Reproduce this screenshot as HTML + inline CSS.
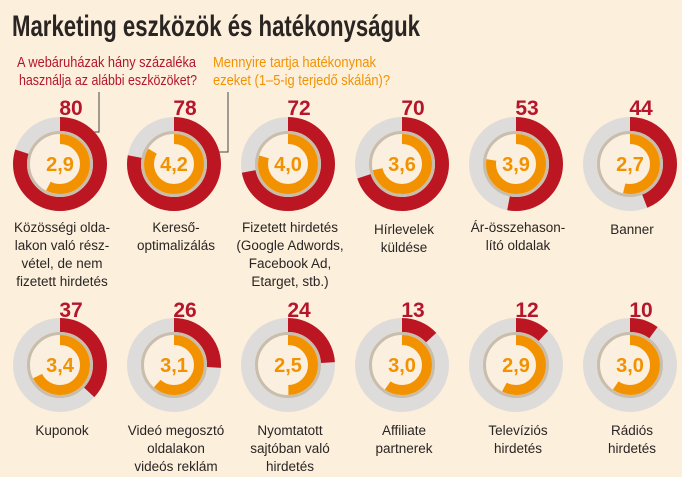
<!DOCTYPE html>
<html><head><meta charset="utf-8"><style>
html,body{margin:0;padding:0;background:#fcefdc;}
svg{display:block;font-family:"Liberation Sans",sans-serif;}
.bg{fill:#dedcda}
.red{fill:none;stroke:#bb1622;stroke-width:14}
.tan{fill:#fbefdf;stroke:#c9bdac;stroke-width:3}
.or{fill:none;stroke:#f39200;stroke-width:10}
.v{font-size:20px;font-weight:bold;fill:#f39200;text-anchor:middle}
.n{font-size:21px;font-weight:bold;fill:#b5162b;text-anchor:middle}
.l{font-size:13.5px;fill:#2a2523;text-anchor:middle}
</style></head><body>
<svg width="682" height="477" viewBox="0 0 682 477" xmlns="http://www.w3.org/2000/svg">
<rect width="682" height="477" fill="#fcefdc"/>
<text x="12" y="36" font-size="30" font-weight="bold" fill="#2a2523" textLength="408" lengthAdjust="spacingAndGlyphs">Marketing eszközök és hatékonyságuk</text>
<g font-size="14.5" fill="#b5162b">
<text x="17" y="67" textLength="179" lengthAdjust="spacingAndGlyphs">A webáruházak hány százaléka</text>
<text x="19" y="85" textLength="178" lengthAdjust="spacingAndGlyphs">használja az alábbi eszközöket?</text>
</g>
<g font-size="14.5" fill="#f39200">
<text x="213" y="67" textLength="163" lengthAdjust="spacingAndGlyphs">Mennyire tartja hatékonynak</text>
<text x="213" y="85" textLength="177" lengthAdjust="spacingAndGlyphs">ezeket (1–5-ig terjedő skálán)?</text>
</g>
<polyline points="99,92 99,132 89,132" fill="none" stroke="#444" stroke-width="1"/>
<polyline points="228,92 228,152 198,152" fill="none" stroke="#444" stroke-width="1"/>

<g transform="translate(60,164)"><circle class="bg" r="47"/><circle class="red" r="40" pathLength="100" stroke-dasharray="80 200" transform="rotate(-90)"/><circle class="tan" r="31.5"/><circle class="or" r="25" pathLength="5" stroke-dasharray="2.9 10" transform="rotate(-90)"/><text class="v" y="7">2,9</text><text class="n" x="11" y="-49">80</text>
<text class="l" x="2" y="68">Közösségi olda-</text><text class="l" x="2" y="86">lakon való rész-</text><text class="l" x="2" y="104">vétel, de nem</text><text class="l" x="2" y="122">fizetett hirdetés</text></g>

<g transform="translate(174,164)"><circle class="bg" r="47"/><circle class="red" r="40" pathLength="100" stroke-dasharray="78 200" transform="rotate(-90)"/><circle class="tan" r="31.5"/><circle class="or" r="25" pathLength="5" stroke-dasharray="4.2 10" transform="rotate(-90)"/><text class="v" y="7">4,2</text><text class="n" x="11" y="-49">78</text>
<text class="l" x="2" y="68">Kereső-</text><text class="l" x="2" y="86">optimalizálás</text></g>

<g transform="translate(288,164)"><circle class="bg" r="47"/><circle class="red" r="40" pathLength="100" stroke-dasharray="72 200" transform="rotate(-90)"/><circle class="tan" r="31.5"/><circle class="or" r="25" pathLength="5" stroke-dasharray="4.0 10" transform="rotate(-90)"/><text class="v" y="7">4,0</text><text class="n" x="11" y="-49">72</text>
<text class="l" x="2" y="68">Fizetett hirdetés</text><text class="l" x="2" y="86">(Google Adwords,</text><text class="l" x="2" y="104">Facebook Ad,</text><text class="l" x="2" y="122">Etarget, stb.)</text></g>

<g transform="translate(402,164)"><circle class="bg" r="47"/><circle class="red" r="40" pathLength="100" stroke-dasharray="70 200" transform="rotate(-90)"/><circle class="tan" r="31.5"/><circle class="or" r="25" pathLength="5" stroke-dasharray="3.6 10" transform="rotate(-90)"/><text class="v" y="7">3,6</text><text class="n" x="11" y="-49">70</text>
<text class="l" x="2" y="70">Hírlevelek</text><text class="l" x="2" y="88">küldése</text></g>

<g transform="translate(516,164)"><circle class="bg" r="47"/><circle class="red" r="40" pathLength="100" stroke-dasharray="53 200" transform="rotate(-90)"/><circle class="tan" r="31.5"/><circle class="or" r="25" pathLength="5" stroke-dasharray="3.9 10" transform="rotate(-90)"/><text class="v" y="7">3,9</text><text class="n" x="11" y="-49">53</text>
<text class="l" x="2" y="68">Ár-összehason-</text><text class="l" x="2" y="86">lító oldalak</text></g>

<g transform="translate(630,164)"><circle class="bg" r="47"/><circle class="red" r="40" pathLength="100" stroke-dasharray="44 200" transform="rotate(-90)"/><circle class="tan" r="31.5"/><circle class="or" r="25" pathLength="5" stroke-dasharray="2.7 10" transform="rotate(-90)"/><text class="v" y="7">2,7</text><text class="n" x="11" y="-49">44</text>
<text class="l" x="2" y="70">Banner</text></g>

<g transform="translate(60,365)"><circle class="bg" r="47"/><circle class="red" r="40" pathLength="100" stroke-dasharray="37 200" transform="rotate(-90)"/><circle class="tan" r="31.5"/><circle class="or" r="25" pathLength="5" stroke-dasharray="3.4 10" transform="rotate(-90)"/><text class="v" y="7">3,4</text><text class="n" x="11" y="-48">37</text>
<text class="l" x="2" y="70">Kuponok</text></g>

<g transform="translate(174,365)"><circle class="bg" r="47"/><circle class="red" r="40" pathLength="100" stroke-dasharray="26 200" transform="rotate(-90)"/><circle class="tan" r="31.5"/><circle class="or" r="25" pathLength="5" stroke-dasharray="3.1 10" transform="rotate(-90)"/><text class="v" y="7">3,1</text><text class="n" x="11" y="-48">26</text>
<text class="l" x="2" y="70">Videó megosztó</text><text class="l" x="2" y="88">oldalakon</text><text class="l" x="2" y="106">videós reklám</text></g>

<g transform="translate(288,365)"><circle class="bg" r="47"/><circle class="red" r="40" pathLength="100" stroke-dasharray="24 200" transform="rotate(-90)"/><circle class="tan" r="31.5"/><circle class="or" r="25" pathLength="5" stroke-dasharray="2.5 10" transform="rotate(-90)"/><text class="v" y="7">2,5</text><text class="n" x="11" y="-48">24</text>
<text class="l" x="2" y="70">Nyomtatott</text><text class="l" x="2" y="88">sajtóban való</text><text class="l" x="2" y="106">hirdetés</text></g>

<g transform="translate(402,365)"><circle class="bg" r="47"/><circle class="red" r="40" pathLength="100" stroke-dasharray="13 200" transform="rotate(-90)"/><circle class="tan" r="31.5"/><circle class="or" r="25" pathLength="5" stroke-dasharray="3.0 10" transform="rotate(-90)"/><text class="v" y="7">3,0</text><text class="n" x="11" y="-48">13</text>
<text class="l" x="2" y="70">Affiliate</text><text class="l" x="2" y="88">partnerek</text></g>

<g transform="translate(516,365)"><circle class="bg" r="47"/><circle class="red" r="40" pathLength="100" stroke-dasharray="12 200" transform="rotate(-90)"/><circle class="tan" r="31.5"/><circle class="or" r="25" pathLength="5" stroke-dasharray="2.9 10" transform="rotate(-90)"/><text class="v" y="7">2,9</text><text class="n" x="11" y="-48">12</text>
<text class="l" x="2" y="70">Televíziós</text><text class="l" x="2" y="88">hirdetés</text></g>

<g transform="translate(630,365)"><circle class="bg" r="47"/><circle class="red" r="40" pathLength="100" stroke-dasharray="10 200" transform="rotate(-90)"/><circle class="tan" r="31.5"/><circle class="or" r="25" pathLength="5" stroke-dasharray="3.0 10" transform="rotate(-90)"/><text class="v" y="7">3,0</text><text class="n" x="11" y="-48">10</text>
<text class="l" x="2" y="70">Rádiós</text><text class="l" x="2" y="88">hirdetés</text></g>
</svg>
</body></html>
